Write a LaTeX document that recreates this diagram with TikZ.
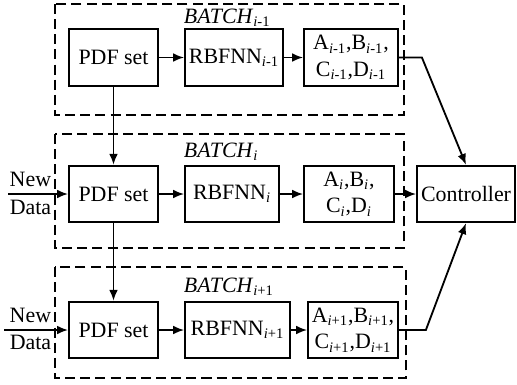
\documentclass[tikz,border=0pt]{standalone}
\usepackage{fontspec}
\setmainfont{Liberation Serif}
\usetikzlibrary{arrows, arrows.meta}
\newcommand{\isub}[1]{\textsubscript{\textit{i}#1}}

\tikzset{
  blk/.style={draw, minimum height=31pt, inner sep=1pt, align=center},
  batchbox/.style={draw, dash pattern=on 5.5pt off 2.8pt},
  title/.style={anchor=base west, inner sep=0pt},
  lbl/.style={anchor=base east, inner sep=0pt},
  conn/.style={-{Latex[length=6pt,width=4.8pt]}, line width=1pt},
}

\begin{document}
\begin{tikzpicture}[x=0.548pt, y=-0.548pt, font=\fontsize{12}{14.5}\selectfont, line width=1pt]
  \useasboundingbox (0,0) rectangle (517,384);
  % batch frames
  \draw[batchbox] (55,4) rectangle (404,115);
  \draw[batchbox] (55,134) rectangle (404,248);
  \draw[batchbox] (55,267) rectangle (406,378);
  \node[title] (t1) at (183,23) {\textit{BATCH}\isub{-1}};
  \node[title] (t2) at (183,157) {\textit{BATCH}\isub{}};
  \node[title] (t3) at (183,292) {\textit{BATCH}\isub{+1}};

  \node[blk, minimum width=48.8pt] (p1) at (113.5,57.5) {PDF set};
  \node[blk, minimum width=53.7pt] (r1) at (234,57.5) {RBFNN\isub{-1}};
  \node[blk, minimum width=51.5pt] (a1) at (351,57.5) {A\isub{-1},B\isub{-1},\\C\isub{-1},D\isub{-1}};

  \node[blk, minimum width=48.8pt] (p2) at (113.5,194) {PDF set};
  \node[blk, minimum width=51.5pt] (r2) at (232,194) {RBFNN\isub{}};
  \node[blk, minimum width=49.3pt] (a2) at (349,194) {A\isub{},B\isub{},\\C\isub{},D\isub{}};
  \node[blk, minimum width=53.7pt] (c) at (466,194) {Controller};

  \node[blk, minimum width=48.8pt] (p3) at (113.5,330) {PDF set};
  \node[blk, minimum width=57.5pt] (r3) at (237.5,330) {RBFNN\isub{+1}};
  \node[blk, minimum width=49.3pt] (a3) at (353,330) {A\isub{+1},B\isub{+1},\\C\isub{+1},D\isub{+1}};

  \coordinate (n2) at (8,194);
  \coordinate (n3) at (4,330);
  \node[lbl] (new2) at (52,186.5) {New};
  \node[lbl] (data2) at (52,214.5) {Data};
  \node[lbl] (new3) at (52,322) {New};
  \node[lbl] (data3) at (52,349) {Data};

  \path[conn]
    (p1) edge (r1)
    (r1) edge (a1)
    (p2) edge (r2)
    (r2) edge (a2)
    (a2) edge (c)
    (p3) edge (r3)
    (r3) edge (a3)
    (p1) edge (p2)
    (p2) edge (p3)
    (n2) edge (p2)
    (n3) edge (p3);
  \draw[conn] (a1.east) -- ++(23,0) -- (c.north);
  \draw[conn] (a3.east) -- ++(27,0) -- (c.south);
\end{tikzpicture}
\end{document}
